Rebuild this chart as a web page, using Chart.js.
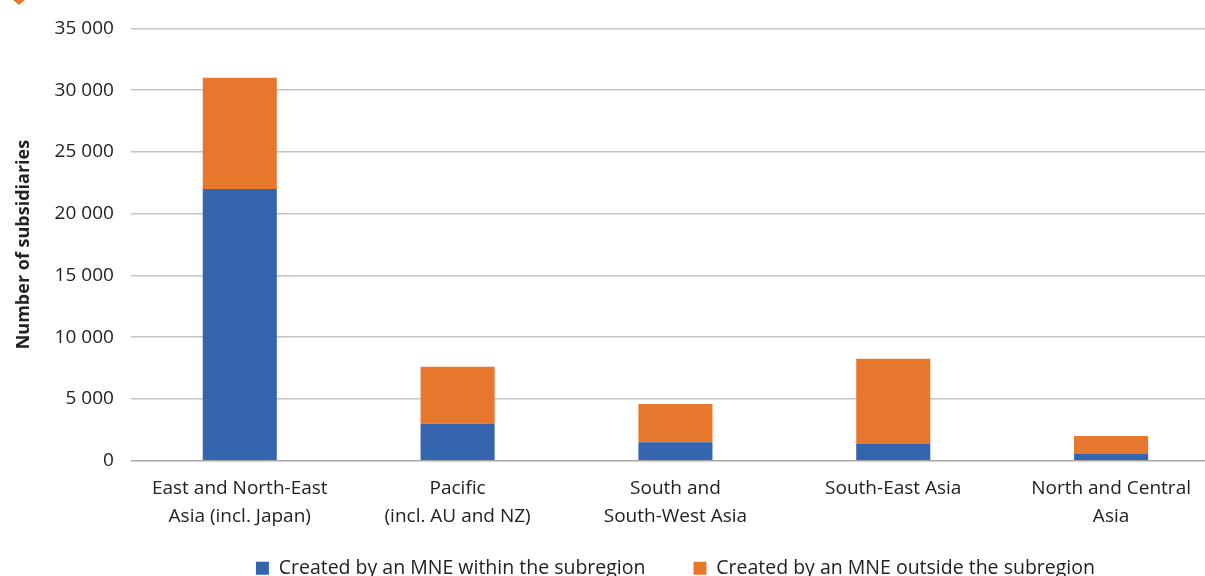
<!DOCTYPE html>
<html>
<head>
<meta charset="utf-8">
<script src="https://cdn.jsdelivr.net/npm/chart.js@4/dist/chart.umd.min.js"></script>
<style>
  html, body { margin: 0; padding: 0; background: #fff; overflow: hidden; }
  #wrap { position: relative; width: 1220px; height: 614px; }
  #marker {
    position: absolute; left: 11px; top: -10px; width: 16px; height: 15px;
    background: #E8772E;
    clip-path: polygon(0 0, 100% 0, 100% 55%, 50% 100%, 0 55%);
  }
</style>
</head>
<body>
<div id="wrap">
  <canvas id="chart" width="1220" height="614"></canvas>
  <div id="marker"></div>
</div>
<script>
// Subregions (x axis)
const categories = [
  ['East and North-East', 'Asia (incl. Japan)'],
  ['Pacific', '(incl. AU and NZ)'],
  ['South and', 'South-West Asia'],
  ['South-East Asia'],
  ['North and Central', 'Asia']
];

// Subsidiaries created by an MNE within the subregion
const withinValues = [22000, 3000, 1500, 1400, 550];
// Subsidiaries created by an MNE outside the subregion
const outsideValues = [9000, 4600, 3100, 6850, 1450];

const seriesLabels = [
  'Created by an MNE within the subregion',
  'Created by an MNE outside the subregion'
];

const yTicks = [0, 5000, 10000, 15000, 20000, 25000, 30000, 35000];

const fontFamily = '"Open Sans", "Noto Sans", sans-serif';
const legendPadding = 48;

function formatThousands(v) {
  return String(v).replace(/\B(?=(\d{3})+(?!\d))/g, ' ');
}

// Centre the legend under the plot area and pull it up under the axis labels
const legendPlacement = {
  id: 'legendPlacement',
  beforeDraw(chart) {
    const legend = chart.legend;
    if (!legend) return;
    const area = chart.chartArea;
    legend.left = area.left;
    legend.right = area.right;
    legend.top = chart.scales.x.bottom - (legendPadding - 22);
  }
};

const ctx = document.getElementById('chart');
new Chart(ctx, {
  type: 'bar',
  data: {
    labels: categories,
    datasets: [
      {
        label: seriesLabels[0],
        data: withinValues,
        backgroundColor: '#3564AF',
        barPercentage: 0.34,
        categoryPercentage: 1.0
      },
      {
        label: seriesLabels[1],
        data: outsideValues,
        backgroundColor: '#E8772E',
        barPercentage: 0.34,
        categoryPercentage: 1.0
      }
    ]
  },
  plugins: [legendPlacement],
  options: {
    responsive: false,
    animation: false,
    layout: { padding: { top: 23, left: 9, right: 0, bottom: 0 } },
    plugins: {
      legend: {
        display: true,
        position: 'bottom',
        labels: {
          boxWidth: 13,
          boxHeight: 13,
          padding: legendPadding,
          color: '#222',
          font: { family: fontFamily, size: 19.5 }
        }
      },
      tooltip: { enabled: false }
    },
    scales: {
      x: {
        stacked: true,
        grid: { display: false },
        border: { display: false },
        ticks: {
          color: '#222',
          padding: 5,
          font: { family: fontFamily, size: 19, lineHeight: 1.52 },
          maxRotation: 0,
          autoSkip: false
        }
      },
      y: {
        stacked: true,
        min: 0,
        max: 35000,
        afterBuildTicks: (axis) => {
          axis.ticks = yTicks.map(v => ({ value: v }));
        },
        grid: {
          color: (c) => c.tick && c.tick.value === 0 ? '#a6a6a6' : '#c4c4c4',
          lineWidth: 1.5,
          drawTicks: false
        },
        border: { display: false },
        title: {
          display: true,
          text: 'Number of subsidiaries',
          color: '#222',
          font: { family: fontFamily, size: 18, weight: 'bold' },
          padding: { bottom: 3 }
        },
        ticks: {
          color: '#222',
          padding: 17,
          font: { family: fontFamily, size: 19 },
          callback: (v) => formatThousands(v)
        }
      }
    }
  }
});
</script>
</body>
</html>
